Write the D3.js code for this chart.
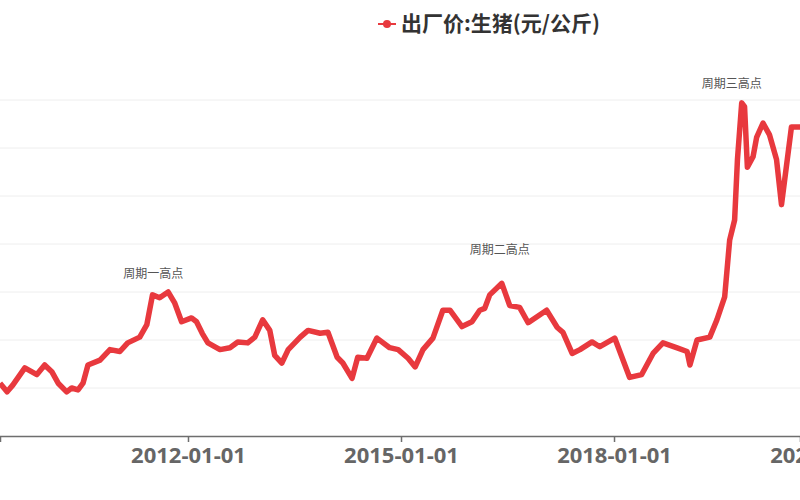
<!DOCTYPE html>
<html><head><meta charset="utf-8">
<script src="https://cdn.jsdelivr.net/npm/d3@7"></script>
<style>body{margin:0;background:#fff}svg{display:block;font-family:"Noto Sans CJK SC","Noto Sans",sans-serif}</style>
</head><body><svg width="800" height="500"></svg>
<script>
// decimal year, price (yuan/kg)
var years = [2009.35,2009.45,2009.53,2009.70,2009.87,2009.98,2010.08,2010.17,2010.29,2010.36,2010.45,2010.52,2010.59,2010.76,2010.90,2011.04,2011.15,2011.32,2011.42,2011.50,2011.60,2011.72,2011.81,2011.91,2012.05,2012.12,2012.20,2012.28,2012.45,2012.59,2012.70,2012.84,2012.94,2013.05,2013.15,2013.22,2013.32,2013.41,2013.58,2013.69,2013.86,2013.97,2014.10,2014.18,2014.31,2014.39,2014.52,2014.66,2014.84,2014.96,2015.10,2015.20,2015.31,2015.45,2015.59,2015.69,2015.86,2016.00,2016.11,2016.18,2016.25,2016.42,2016.53,2016.67,2016.79,2017.05,2017.20,2017.28,2017.41,2017.52,2017.69,2017.80,2018.01,2018.22,2018.39,2018.55,2018.69,2018.88,2019.03,2019.07,2019.17,2019.35,2019.45,2019.56,2019.63,2019.70,2019.74,2019.80,2019.84,2019.88,2019.96,2020.01,2020.10,2020.19,2020.29,2020.36,2020.50,2020.62,2020.75];
var prices = [10.5,9.6,10.3,12.1,11.4,12.4,11.7,10.5,9.6,10.0,9.8,10.5,12.4,12.9,14.0,13.8,14.7,15.3,16.6,19.7,19.4,20.0,18.9,16.9,17.3,16.9,15.7,14.7,14.0,14.2,14.8,14.7,15.3,17.1,16.0,13.4,12.6,14.0,15.3,16.0,15.7,15.8,13.2,12.6,11.0,13.2,13.1,15.2,14.2,14.0,13.1,12.2,14.0,15.2,18.1,18.1,16.4,16.9,18.1,18.3,19.7,20.9,18.6,18.4,16.8,18.1,16.3,15.8,13.6,14.0,14.8,14.3,15.2,11.1,11.4,13.6,14.7,14.2,13.8,12.4,15.0,15.3,17.1,19.5,25.4,27.5,33.8,39.7,39.3,33.0,34.1,36.1,37.6,36.4,33.8,29.1,37.2,37.2,36.8];
var tickDates = ["2012-01-01","2015-01-01","2018-01-01","2021-01-01"];
var yGrid = [10,15,20,25,30,35,40];
// label anchor (year, value) for each cycle high
var notes = [
  {text:"周期一高点", year:2011.51, value:21.5},
  {text:"周期二高点", year:2016.39, value:24.0},
  {text:"周期三高点", year:2019.66, value:41.2}
];
var seriesName = "出厂价:生猪(元/公斤)";

function toDate(y){
  var yr = Math.floor(y), s = new Date(yr,0,1), e = new Date(yr+1,0,1);
  return new Date(+s + (y-yr)*(e-s));
}
var data = years.map(function(y,i){ return {date:toDate(y), v:prices[i]}; });

var svg = d3.select("svg");
var x = d3.scaleTime().domain([toDate(2009.35), toDate(2020.62)]).range([0,800]);
var y = d3.scaleLinear().domain([5,40]).range([436,100]);

svg.append("g").selectAll("line").data(yGrid).enter().append("line")
  .attr("x1",0).attr("x2",800).attr("y1",y).attr("y2",y)
  .attr("stroke","#eeeeee").attr("stroke-width",1);

var xa = svg.append("g").attr("transform","translate(0,436)")
  .call(d3.axisBottom(x).tickValues(tickDates.map(function(d){return d3.timeParse("%Y-%m-%d")(d);}))
    .tickFormat(d3.timeFormat("%Y-%m-%d")).tickSizeOuter(0).tickSize(6));
xa.select(".domain").attr("stroke","#6e6e6e").attr("stroke-width",1.5);
xa.selectAll(".tick line").attr("stroke","#6e6e6e").attr("stroke-width",1.5);
xa.selectAll("text").attr("fill","#666").attr("font-size",22).attr("font-weight","bold").attr("dy","0.8em")
  .attr("font-family","'Open Sans',sans-serif");

svg.append("path").datum(data)
  .attr("fill","none").attr("stroke","#e8393e").attr("stroke-width",5.5)
  .attr("stroke-linejoin","round")
  .attr("d", d3.line().x(function(d){return x(d.date);}).y(function(d){return y(d.v);}));

svg.append("g").selectAll("text").data(notes).enter().append("text")
  .attr("x",function(d){return x(toDate(d.year));})
  .attr("y",function(d){return y(d.value);})
  .attr("text-anchor","middle").attr("font-size",12).attr("fill","#555")
  .text(function(d){return d.text;});

var lg = svg.append("g").attr("transform","translate(378,24)");
lg.append("line").attr("x1",0).attr("x2",18).attr("stroke","#e8393e").attr("stroke-width",2);
lg.append("circle").attr("cx",9).attr("r",4).attr("fill","#e8393e");
lg.append("text").attr("x",23).attr("dy","0.35em").attr("font-size",21).attr("font-weight","bold")
  .attr("fill","#333").text(seriesName);
</script></body></html>
